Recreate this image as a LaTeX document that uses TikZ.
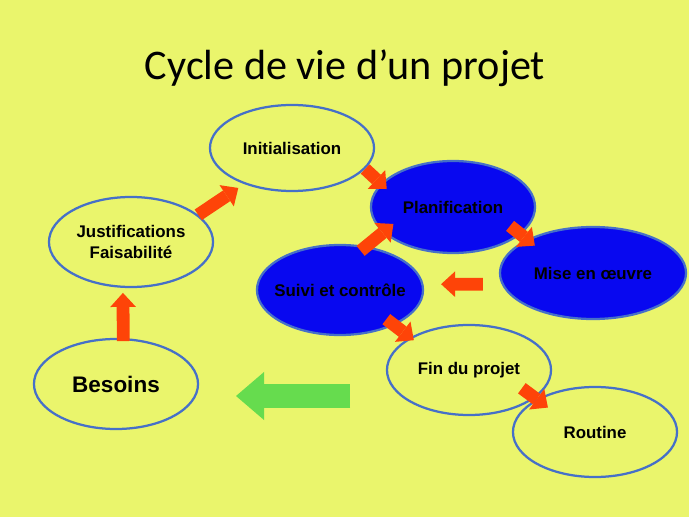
\documentclass[tikz,border=0pt]{standalone}
\usepackage{fontspec}
\setmainfont{Liberation Sans}
\newfontfamily\titlefont{Carlito}
\definecolor{SlideColor}{RGB}{234,245,108}
\definecolor{EdgeBlue}{RGB}{70,112,200}
\definecolor{PhaseBlue}{RGB}{8,8,240}
\definecolor{FlowRed}{RGB}{254,68,8}
\definecolor{BackGreen}{RGB}{102,220,78}
\usetikzlibrary{arrows.meta, shapes.geometric}

\begin{document}
\begin{tikzpicture}[x=0.025cm, y=-0.025cm,
    phase/.style={ellipse, draw=EdgeBlue, line width=1.6pt, inner sep=0pt,
      minimum width=4.1cm, minimum height=2.25cm, align=center,
      font=\fontsize{12}{15.6}\selectfont\bfseries},
    active/.style={phase, fill=PhaseBlue},
    flow/.style={FlowRed, line width=0.32cm,
      -{Triangle[length=0.35cm, width=0.64cm, line width=0pt]}},
    backflow/.style={BackGreen, line width=0.6cm,
      -{Triangle[length=0.7cm, width=1.2cm, line width=0pt]}}]
  \fill[SlideColor] (0,0) rectangle (689,517);
  \useasboundingbox (0,0) rectangle (689,517);
  \node[font=\fontsize{30}{36}\selectfont\titlefont] (title) at (345,68) {Cycle de vie d’un projet};
  \node[phase, minimum height=2.15cm] (init) at (292,148) {Initialisation};
  \node[active, minimum height=2.3cm] (plan) at (453,207) {Planification};
  \node[active, minimum width=4.65cm, minimum height=2.3cm] (mise) at (593,273) {Mise en œuvre};
  \node[active, inner xsep=-0.3cm, minimum width=4.15cm] (suivi) at (340,290) {Suivi et contrôle};
  \node[phase] (fin) at (469,370) {Fin du projet};
  \node[phase] (rout) at (595,432) {Routine};
  \node[phase] (jus) at (131,242) {Justifications\\Faisabilité};
  \node[phase, font=\fontsize{16}{19}\selectfont\bfseries] (bes) at (116,384) {Besoins};
  \draw[flow, shorten <=-0.075cm, shorten >=0.125cm] (bes.81) -- (jus.260);
  \draw[flow, shorten >=0.175cm] (jus.22) -- (init.217);
  \draw[flow, shorten >=-0.2cm] (init.-16) -- (plan.162);
  \draw[flow, shorten <=-0.34cm, shorten >=-0.25cm] (plan.-22) -- (mise.153);
  \draw[flow, shorten <=0.47cm, shorten >=0.44cm] (mise.187) -- (suivi.4);
  \draw[flow, shorten <=-0.185cm, shorten >=-0.335cm] (suivi.59) -- (plan.200);
  \draw[flow, shorten <=-0.25cm, shorten >=-0.115cm] (suivi.-33) -- (fin.151);
  \draw[flow, shorten <=-0.41cm, shorten >=2.72cm] (fin.-23) -- (rout.-45);
  \coordinate (backtail) at (350,396);
  \coordinate (backtip) at (236,396);
  \draw[backflow] (backtail) -- (backtip);
\end{tikzpicture}
\end{document}
